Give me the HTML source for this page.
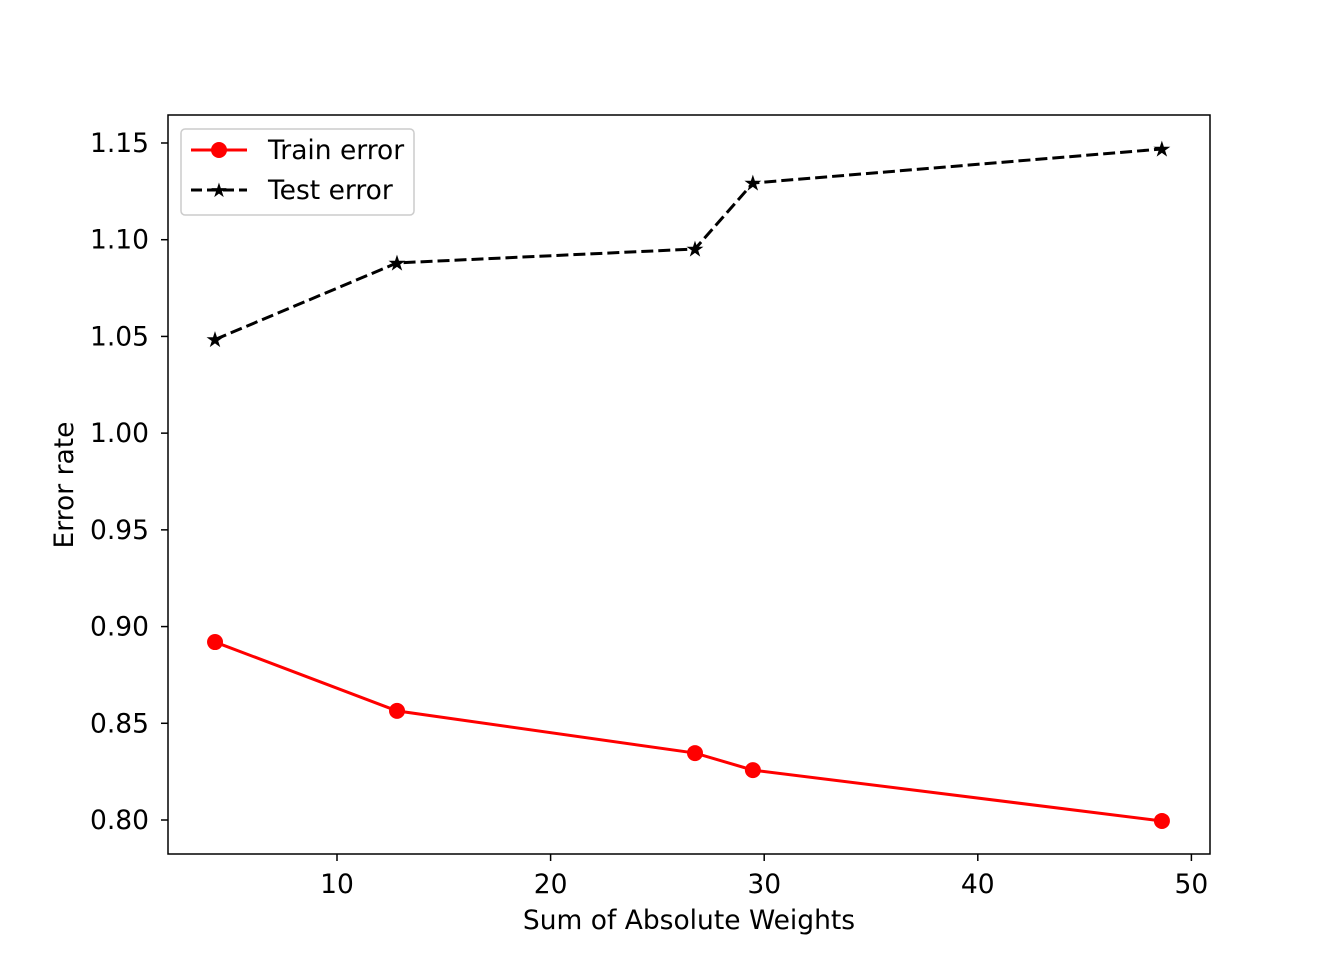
<!DOCTYPE html>
<html><head><meta charset="utf-8"><style>
body{margin:0;background:#fff;}
svg text{font-family:"DejaVu Sans","Liberation Sans",sans-serif;fill:#000;}
</style></head><body>
<svg id="chart" width="1344" height="960" xmlns="http://www.w3.org/2000/svg">
<rect width="1344" height="960" fill="#fff"/>
<g id="plot"></g>
<rect x="168" y="115" width="1042" height="739" fill="none" stroke="#000" stroke-width="1.5"/>
<text x="689" y="929" font-size="26.5" text-anchor="middle">Sum of Absolute Weights</text>
<text x="73" y="485" font-size="26.5" text-anchor="middle" transform="rotate(-90 73 485)">Error rate</text>
<g>
<rect x="181" y="129" width="233" height="86" rx="4" fill="#fff" fill-opacity="0.8" stroke="#ccc" stroke-width="1.5"/>
<line x1="191" y1="150" x2="247" y2="150" stroke="#f00" stroke-width="3"/>
<circle cx="219" cy="150" r="8" fill="#f00"/>
<text x="268" y="159" font-size="26.5">Train error</text>
<line x1="191" y1="190" x2="247" y2="190" stroke="#000" stroke-width="3" stroke-dasharray="11,5"/>
<text x="219" y="197" font-size="20" text-anchor="middle">★</text>
<text x="268" y="199" font-size="26.5">Test error</text>
</g>
</svg>
<script>
const xValues = [4.29, 12.81, 26.76, 29.47, 48.62];
const trainError = [0.892, 0.8564, 0.8346, 0.8258, 0.7995];
const testError = [1.0484, 1.088, 1.0952, 1.1293, 1.1469];
const xTicks = [10, 20, 30, 40, 50];
const yTicks = [0.80, 0.85, 0.90, 0.95, 1.00, 1.05, 1.10, 1.15];

const NS = 'http://www.w3.org/2000/svg';
const g = document.getElementById('plot');
function xs(v){ return 123.4 + v * 21.36; }
function ys(v){ return 820 - (v - 0.80) * 1934.3; }
function mk(tag, attrs){ const e = document.createElementNS(NS, tag); for (const k in attrs) e.setAttribute(k, attrs[k]); g.appendChild(e); return e; }

xTicks.forEach(t => {
  const l = mk('line', {x1: xs(t), x2: xs(t), y1: 854, y2: 861, stroke: '#000', 'stroke-width': 1.5});
  
  
  const tx = mk('text', {x: xs(t), y: 893, 'font-size': 26.5, 'text-anchor': 'middle'});
  tx.textContent = t;
  
  
});
yTicks.forEach(t => {
  const l = mk('line', {x1: 161, x2: 168, y1: ys(t), y2: ys(t), stroke: '#000', 'stroke-width': 1.5});
  
  
  const tx = mk('text', {x: 149, y: ys(t) + 9, 'font-size': 26.5, 'text-anchor': 'end'});
  tx.textContent = t.toFixed(2);
  
  
});

const trainPts = xValues.map((x, i) => xs(x) + ',' + ys(trainError[i])).join(' ');
const tl = mk('polyline', {points: trainPts, fill: 'none', stroke: '#f00', 'stroke-width': 3});


xValues.forEach((x, i) => {
  const c = mk('circle', {cx: xs(x), cy: ys(trainError[i]), r: 8, fill: '#f00'});
  
  
});

const testPts = xValues.map((x, i) => xs(x) + ',' + ys(testError[i])).join(' ');
const sl = mk('polyline', {points: testPts, fill: 'none', stroke: '#000', 'stroke-width': 3, 'stroke-dasharray': '12,5'});


xValues.forEach((x, i) => {
  const s = mk('text', {x: xs(x), y: ys(testError[i]) + 7.5, 'font-size': 22, 'text-anchor': 'middle'});
  s.textContent = '★';
  
  
});
</script>
</body></html>
